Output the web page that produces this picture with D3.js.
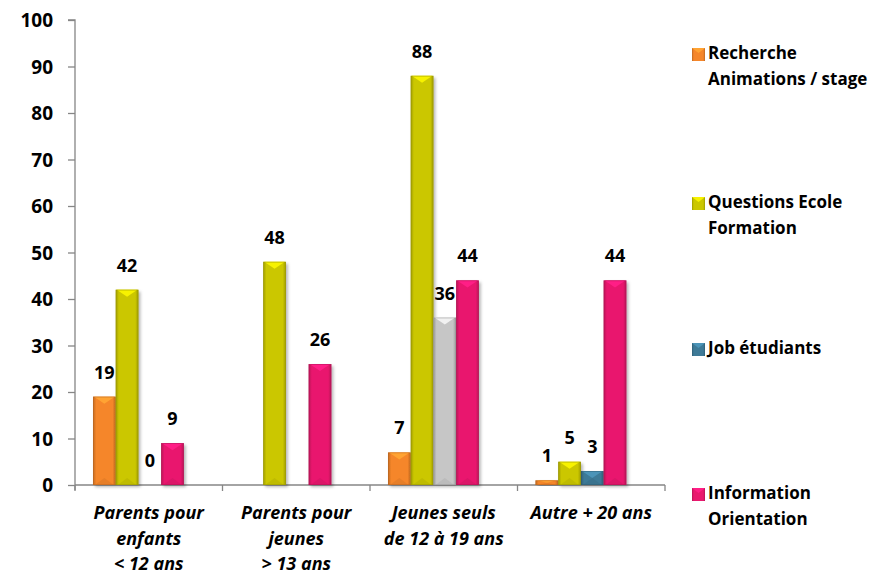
<!DOCTYPE html>
<html>
<head>
<meta charset="utf-8">
<script src="https://cdn.jsdelivr.net/npm/d3@7"></script>
<style>
  body { margin: 0; background: #ffffff; }
  svg text { font-family: "Open Sans", Lato, sans-serif; font-weight: bold; fill: #000; }
</style>
</head>
<body>
<svg id="chart" width="879" height="574"></svg>
<script>
// Categories (line breaks as drawn under the axis)
const categories = [
  "Parents pour\nenfants\n< 12 ans",
  "Parents pour\njeunes\n> 13 ans",
  "Jeunes seuls\nde 12 à 19 ans",
  "Autre + 20 ans"
];

// Series names (legend lines)
const seriesNames = [
  "Recherche\nAnimations / stage",
  "Questions Ecole\nFormation",
  "Job étudiants",
  "Information\nOrientation"
];

// Values per series, one per category (null = no bar, no label)
const recherche   = [19, null, 7, 1];
const questions   = [42, 48, 88, 5];
const job         = [0, null, 36, 3];
const information = [9, 26, 44, 44];

const yTicks = [0, 10, 20, 30, 40, 50, 60, 70, 80, 90, 100];

// Styling
const seriesColors = ["#f5862a", "#cbc700", "#3e7a97", "#e9196e"];
const highlight = { series: 2, category: 2, color: "#c6c6c6" };

const seriesValues = [recherche, questions, job, information];

const svg = d3.select("#chart");
const plot = { left: 75, right: 665, top: 20, bottom: 485 };

const x0 = d3.scaleBand().domain(d3.range(categories.length))
  .range([plot.left, plot.right]).paddingInner(0).paddingOuter(0);
// bars sit slightly left of the band centre
const groupLeft = 0.122, groupWidth = 0.616;
const x1 = d3.scaleBand().domain(d3.range(seriesNames.length))
  .range([x0.bandwidth() * groupLeft, x0.bandwidth() * (groupLeft + groupWidth)]);
const y = d3.scaleLinear().domain([0, 100]).range([plot.bottom, plot.top]);

// defs: gradients + shadow
const defs = svg.append("defs");
const f = defs.append("filter").attr("id", "shadow").attr("x", "-30%").attr("y", "-10%").attr("width", "160%").attr("height", "130%");
f.append("feDropShadow").attr("dx", 2).attr("dy", 2).attr("stdDeviation", 1.8)
  .attr("flood-color", "#000").attr("flood-opacity", 0.28);

function gradId(c) { return "g" + c.replace("#", ""); }
const allColors = seriesColors.concat([highlight.color]);
allColors.forEach(c => {
  const dark = d3.color(c).darker(0.7).formatHex();
  const g = defs.append("linearGradient").attr("id", gradId(c))
    .attr("x1", 0).attr("x2", 1).attr("y1", 0).attr("y2", 0);
  g.append("stop").attr("offset", "0%").attr("stop-color", dark);
  g.append("stop").attr("offset", "14%").attr("stop-color", c);
  g.append("stop").attr("offset", "86%").attr("stop-color", c);
  g.append("stop").attr("offset", "100%").attr("stop-color", dark);
});

// axes
const axisColor = "#868686";
const yAxis = svg.append("g").attr("transform", `translate(${plot.left},0)`)
  .call(d3.axisLeft(y).tickValues(yTicks).tickSize(7).tickPadding(15).tickFormat(d3.format("d")));
yAxis.select(".domain").attr("stroke", axisColor).attr("stroke-width", 1.3)
  .attr("d", `M-7,${plot.top}H0V${plot.bottom + 5}`);
yAxis.selectAll(".tick line").attr("stroke", axisColor).attr("stroke-width", 1.3);
yAxis.selectAll(".tick text").style("font-size", "19px").attr("dy", "0.36em");

const xg = svg.append("g");
xg.append("line").attr("x1", plot.left).attr("x2", plot.right)
  .attr("y1", plot.bottom).attr("y2", plot.bottom)
  .attr("stroke", axisColor).attr("stroke-width", 1.3);
const bounds = x0.domain().map(d => x0(d)).concat([plot.right]);
xg.selectAll("line.tk").data(bounds).join("line").attr("class", "tk")
  .attr("x1", d => d).attr("x2", d => d)
  .attr("y1", plot.bottom).attr("y2", plot.bottom + 6)
  .attr("stroke", axisColor).attr("stroke-width", 1.3);

// category labels
categories.forEach((c, i) => {
  const t = svg.append("text").attr("text-anchor", "middle")
    .attr("x", x0(i) + x0.bandwidth() / 2).attr("y", 519)
    .style("font-size", "18px").style("font-style", "italic");
  c.split("\n").forEach((line, k) => {
    t.append("tspan").attr("x", x0(i) + x0.bandwidth() / 2).attr("dy", k === 0 ? 0 : 25.5).text(line);
  });
});

// bars
const bars = [];
seriesValues.forEach((vals, s) => {
  vals.forEach((v, c) => {
    if (v === null) return;
    const color = (s === highlight.series && c === highlight.category) ? highlight.color : seriesColors[s];
    bars.push({ s, c, v, color });
  });
});

const barG = svg.append("g");
bars.forEach(b => {
  const bx = x0(b.c) + x1(b.s);
  const bw = x1.bandwidth();
  const top = y(b.v);
  const h = y(0) - top;
  if (h <= 0) return;
  const g = barG.append("g");
  g.append("rect").attr("x", bx).attr("y", top).attr("width", bw).attr("height", h)
    .attr("fill", `url(#${gradId(b.color)})`).attr("filter", "url(#shadow)");
  const bev = Math.min(7, h / 2);
  if (h > 3) {
    const light = d3.color(b.color).brighter(0.55).formatHex();
    g.append("path")
      .attr("d", `M${bx + 1},${top}L${bx + bw - 1},${top}L${bx + bw / 2},${top + bev}Z`)
      .attr("fill", light);
    g.append("path")
      .attr("d", `M${bx + 2},${y(0)}L${bx + bw - 2},${y(0)}L${bx + bw / 2},${y(0) - bev}Z`)
      .attr("fill", d3.color(b.color).darker(0.35).formatHex()).attr("opacity", 0.5);
  }
  g.append("rect").attr("x", bx + 0.4).attr("y", top + 0.4).attr("width", bw - 0.8).attr("height", Math.max(0, h - 0.8))
    .attr("fill", "none").attr("stroke", d3.color(b.color).darker(0.8).formatHex()).attr("stroke-width", 0.8).attr("opacity", 0.6);
});

// value labels
svg.append("g").selectAll("text").data(bars).join("text")
  .attr("text-anchor", "middle")
  .attr("x", d => x0(d.c) + x1(d.s) + x1.bandwidth() / 2)
  .attr("y", d => y(d.v) - 18)
  .style("font-size", "18px")
  .text(d => d.v);

// legend
const legendY = [59, 208, 354, 499];
seriesNames.forEach((name, s) => {
  const ly = legendY[s];
  const mx = 692, ms = 13, my = ly - 11;
  const c = seriesColors[s];
  svg.append("rect").attr("x", mx).attr("y", my).attr("width", ms).attr("height", ms)
    .attr("fill", `url(#${gradId(c)})`);
  svg.append("path").attr("d", `M${mx},${my}L${mx + ms},${my}L${mx + ms / 2},${my + 5}Z`)
    .attr("fill", d3.color(c).brighter(0.55).formatHex());
  const t = svg.append("text").attr("x", 708).attr("y", ly).style("font-size", "17px");
  name.split("\n").forEach((line, k) => {
    t.append("tspan").attr("x", 708).attr("dy", k === 0 ? 0 : 25.8).text(line);
  });
});
</script>
</body>
</html>
